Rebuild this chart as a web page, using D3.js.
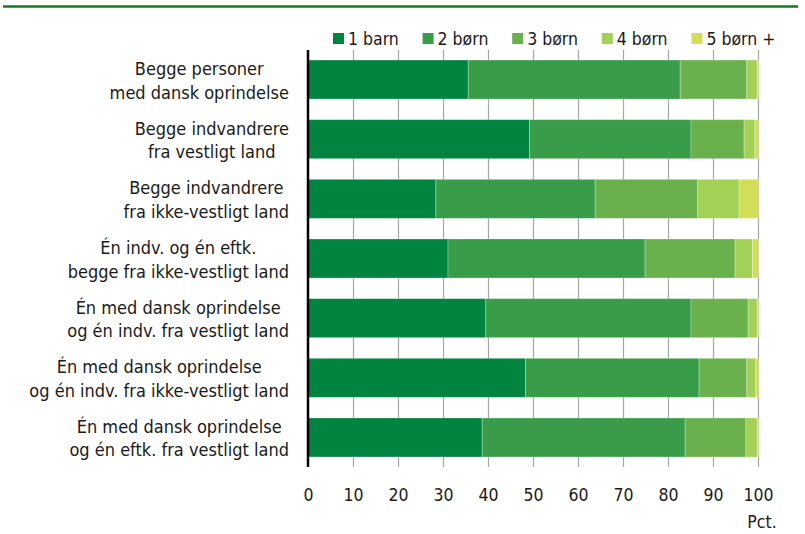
<!DOCTYPE html>
<html>
<head>
<meta charset="utf-8">
<script src="https://cdn.jsdelivr.net/npm/d3@7"></script>
<style>
  body { margin: 0; background: #fff; }
  svg text { font-family: "DejaVu Sans Condensed", "DejaVu Sans", sans-serif; fill: #1a1a1a; }
</style>
</head>
<body>
<svg id="chart" width="805" height="534"></svg>
<script>
const categories = [
  ["Begge personer", "med dansk oprindelse"],
  ["Begge indvandrere", "fra vestligt land"],
  ["Begge indvandrere", "fra ikke-vestligt land"],
  ["Én indv. og én eftk.", "begge fra ikke-vestligt land"],
  ["Én med dansk oprindelse", "og én indv. fra vestligt land"],
  ["Én med dansk oprindelse", "og én indv. fra ikke-vestligt land"],
  ["Én med dansk oprindelse", "og én eftk. fra vestligt land"],
];
const seriesNames = ["1 barn", "2 børn", "3 børn", "4 børn", "5 børn +"];
const oneChild = [35.5, 49.1, 28.3, 31.0, 39.4, 48.2, 38.6];
const twoChildren = [47.1, 35.9, 35.4, 43.8, 45.6, 38.6, 45.1];
const threeChildren = [14.8, 11.8, 22.8, 20.0, 12.7, 10.6, 13.5];
const fourChildren = [2.3, 2.4, 9.2, 3.9, 2.0, 2.0, 2.5];
const fivePlus = [0.3, 0.8, 4.3, 1.3, 0.3, 0.6, 0.3];
const xTicks = [0, 10, 20, 30, 40, 50, 60, 70, 80, 90, 100];

const COLORS = ["#00843f", "#389c48", "#6ab04d", "#a2d155", "#d3de58"];

const svg = d3.select("#chart");

// green rule at the top
svg.append("line")
  .attr("x1", 3).attr("x2", 798)
  .attr("y1", 6.5).attr("y2", 6.5)
  .attr("stroke", "#0a7f1c")
  .attr("stroke-width", 2.5);

const x = d3.scaleLinear().domain([0, 100]).range([308.5, 758.5]);
const y = d3.scaleBand()
  .domain(d3.range(categories.length))
  .range([50, 467])
  .paddingInner(0.346)
  .paddingOuter(0.168);

// vertical grid lines, behind the bars
svg.append("g")
  .selectAll("line")
  .data(xTicks.slice(1))
  .enter()
  .append("line")
  .attr("x1", (d) => x(d)).attr("x2", (d) => x(d))
  .attr("y1", 50).attr("y2", 467)
  .attr("stroke", "#a6a6a6")
  .attr("stroke-width", 1.2);

const rows = categories.map((c, i) => ({
  values: [oneChild[i], twoChildren[i], threeChildren[i], fourChildren[i], fivePlus[i]],
}));

const stacked = rows.map((r, i) => {
  let acc = 0;
  return r.values.map((v, k) => {
    const seg = { row: i, k: k, x0: acc, x1: acc + v };
    acc += v;
    return seg;
  });
});

svg.append("g")
  .selectAll("rect")
  .data(stacked.flat())
  .enter()
  .append("rect")
  .attr("x", (d) => x(d.x0))
  .attr("width", (d) => Math.max(0, x(Math.min(d.x1, 100)) - x(d.x0)))
  .attr("y", (d) => y(d.row))
  .attr("height", y.bandwidth())
  .attr("fill", (d) => COLORS[d.k])
  .attr("stroke", "rgba(255,255,255,0.35)")
  .attr("stroke-width", 0.8);

// y axis line
svg.append("line")
  .attr("x1", 308).attr("x2", 308)
  .attr("y1", 50).attr("y2", 467)
  .attr("stroke", "#000")
  .attr("stroke-width", 2.5);

// category labels, each block centred and right aligned
const labelRight = 289;
const labels = svg.append("g")
  .selectAll("text")
  .data(categories)
  .enter()
  .append("text")
  .style("font-size", "18px")
  .attr("text-anchor", "middle");

labels.each(function (d, i) {
  const t = d3.select(this);
  const cy = y(i) + y.bandwidth() / 2;
  d.forEach((line, j) => {
    t.append("tspan")
      .attr("x", 0)
      .attr("y", cy - 4.5 + j * 23.5)
      .text(line);
  });
  const w = this.getBBox().width;
  t.selectAll("tspan").attr("x", labelRight - w / 2);
});

// x tick labels
svg.append("g")
  .selectAll("text")
  .data(xTicks)
  .enter()
  .append("text")
  .attr("x", (d) => x(d))
  .attr("y", 501)
  .attr("text-anchor", "middle")
  .style("font-size", "17.5px")
  .text((d) => d);

svg.append("text")
  .attr("x", 762)
  .attr("y", 528)
  .attr("text-anchor", "middle")
  .style("font-size", "17.5px")
  .text("Pct.");

// legend
const legend = svg.append("g")
  .selectAll("g")
  .data(seriesNames)
  .enter()
  .append("g")
  .attr("transform", (d, i) => `translate(${333 + i * 89.6}, 33)`);
legend.append("rect")
  .attr("width", 11)
  .attr("height", 11)
  .attr("fill", (d, i) => COLORS[i]);
legend.append("text")
  .attr("x", 15)
  .attr("y", 12)
  .style("font-size", "17.5px")
  .text((d) => d);
</script>
</body>
</html>
